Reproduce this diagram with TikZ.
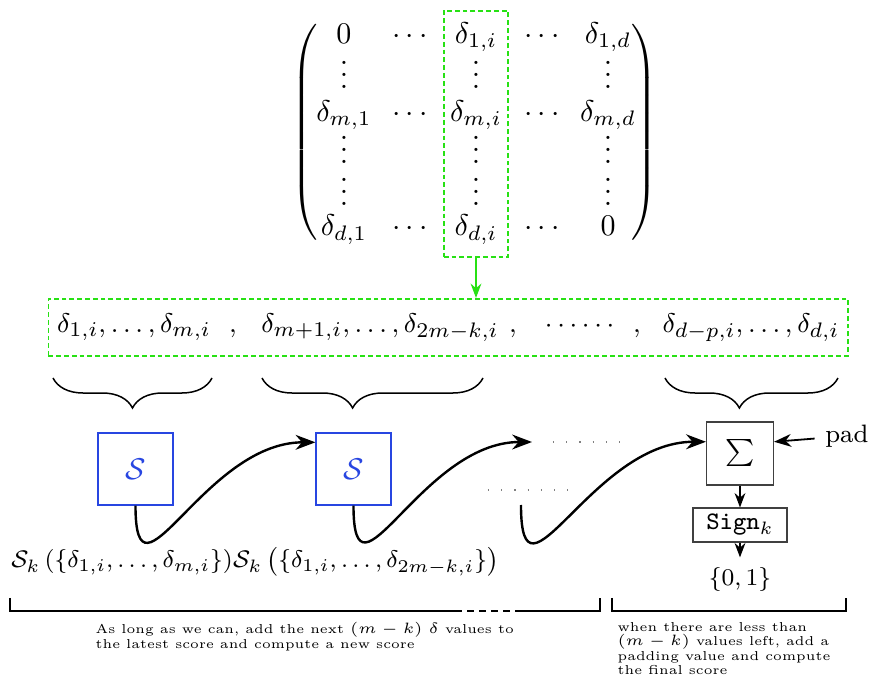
\documentclass[tikz,border=0pt]{standalone}
\usepackage{amsmath}
\usetikzlibrary{arrows.meta,matrix,fit,calc,decorations.pathreplacing}
\tikzset{>=Stealth}
\definecolor{boxgreen}{RGB}{40,225,20}
\definecolor{sblue}{RGB}{40,70,225}
\newcommand*{\smalltext}{\fontsize{4.3}{4.8}\selectfont}
\newcommand*{\lbl}{\fontsize{8.4}{10}\selectfont}
\newcommand*{\rowfont}{\fontsize{9.3}{11}\selectfont}

\begin{document}
\begin{tikzpicture}[x=0.3333pt,y=-0.3333pt,
  every left delimiter/.style={xshift=3.3pt},
  every right delimiter/.style={xshift=-4pt},
  greenbox/.style={draw=boxgreen,semithick,dash pattern=on 1.6pt off 1pt},
  rowtxt/.style={anchor=base,inner sep=0pt,font=\rowfont},
  sbox/.style={draw=sblue,text=sblue,minimum width=25pt,minimum height=24pt,inner sep=0pt},
  gbox/.style={draw=black!75,inner sep=0pt,font=\lbl},
  curly/.style={decorate,decoration={brace,mirror,amplitude=10pt,aspect=#1},line width=0.5pt},
  curly/.default=0.5,
  flow/.style={->,thick}]
\useasboundingbox (0,0) rectangle (875,687);
\matrix (M) at (476,132) [matrix of math nodes,left delimiter=(,right delimiter=),inner sep=0pt,
  nodes={text height=8pt,text depth=3pt,inner sep=0pt,minimum width=21pt},column sep=1pt]
{
0 & \cdots & \delta_{1,i} & \cdots & \delta_{1,d} \\[4pt]
\vdots & & \vdots & & \vdots \\[0pt]
\delta_{m,1} & \cdots & \delta_{m,i} & \cdots & \delta_{m,d} \\[3pt]
\vdots & & \vdots & & \vdots \\[3pt]
\vdots & & \vdots & & \vdots \\[-1pt]
\delta_{d,1} & \cdots & \delta_{d,i} & \cdots & 0 \\
};
\coordinate (ctop) at ($(M-1-3.north)+(0,-8)$);
\coordinate (cbot) at ($(M-6-3.south)+(0,12)$);
\node[greenbox,inner sep=0pt,fit=(M-1-3)(M-6-3)(ctop)(cbot)] (col) {};

\node[rowtxt] (g1) at (134,332) {$\delta_{1,i},\ldots,\delta_{m,i}$};
\node[rowtxt] (c1) at (233,332) {$,$};
\node[rowtxt] (g2) at (380,332) {$\delta_{m+1,i},\ldots,\delta_{2m-k,i}$};
\node[rowtxt] (c2) at (513,332) {$,$};
\node[rowtxt] (dd) at (582,332) {$\cdots\cdots$};
\node[rowtxt] (c3) at (637,332) {$,$};
\node[rowtxt] (g3) at (751,332) {$\delta_{d-p,i},\ldots,\delta_{d,i}$};
\node[greenbox,fit=(g1)(g3),inner xsep=2.7pt,inner ysep=4.6pt] (row) {};
\draw[->,boxgreen] (col.south) -- (col.south |- row.north);

\draw[curly] (53,378) -- (212,378);
\draw[curly=0.41] (262,378) -- (483,378);
\draw[curly=0.43] (665,378) -- (838,378);

\node[sbox] (s1) at (135.5,469) {$\mathcal{S}$};
\node[sbox] (s2) at (353.5,469) {$\mathcal{S}$};
\node[gbox,minimum width=22.3pt,minimum height=21pt,font=\fontsize{9}{11}\selectfont] (sig) at (740,453.5) {$\sum$};
\node[gbox,minimum width=31.3pt,minimum height=11.3pt] (sgn) at (740,525) {\texttt{Sign}$_k$};
\node[font=\lbl] (out) at (740,580) {$\{0,1\}$};
\node[font=\lbl,anchor=east] (pad) at (879,436) {pad};
\coordinate (e2) at (532,442);
\coordinate (b3) at (521,505);

\draw[flow] (s1.south) to[out=-90,in=180,looseness=1.5] (s2.145);
\draw[flow] (s2.south) to[out=-90,in=180,looseness=1.5] (e2);
\draw[flow] (b3) to[out=-90,in=180,looseness=1.5] (sig.161);
\draw[->,semithick] (pad) -- (sig.19);
\draw[->] (sig) -- (sgn);
\draw[->] (sgn) -- (out);
\draw[gray,loosely dotted] (553,442) -- (632,442);
\draw[gray,loosely dotted] (488,490) -- (568,490);

\node[font=\lbl,anchor=base] (l1) at (122,568) {$\mathcal{S}_k\left(\{\delta_{1,i},\ldots,\delta_{m,i}\}\right)$};
\node[font=\lbl,anchor=base] (l2) at (366,568) {$\mathcal{S}_k\left(\{\delta_{1,i},\ldots,\delta_{2m-k,i}\}\right)$};

\draw[semithick] (10,598) |- (455,611);
\draw[semithick,dash pattern=on 2.3pt off 1.7pt] (455,611) -- (517,611);
\draw[semithick] (517,611) -| (600,598);
\draw[semithick] (612,598) |- (846,611) -- (846,598);

\node[anchor=north west,align=left,font=\smalltext,inner sep=0pt] (t1) at (95,622)
  {As long as we can, add the next $(m-k)$ $\delta$ values to\\the latest score and compute a new score};
\node[anchor=north west,align=left,font=\smalltext,inner sep=0pt] (t2) at (617,622)
  {when there are less than\\$(m-k)$ values left, add a\\padding value and compute\\the final score};
\end{tikzpicture}
\end{document}
